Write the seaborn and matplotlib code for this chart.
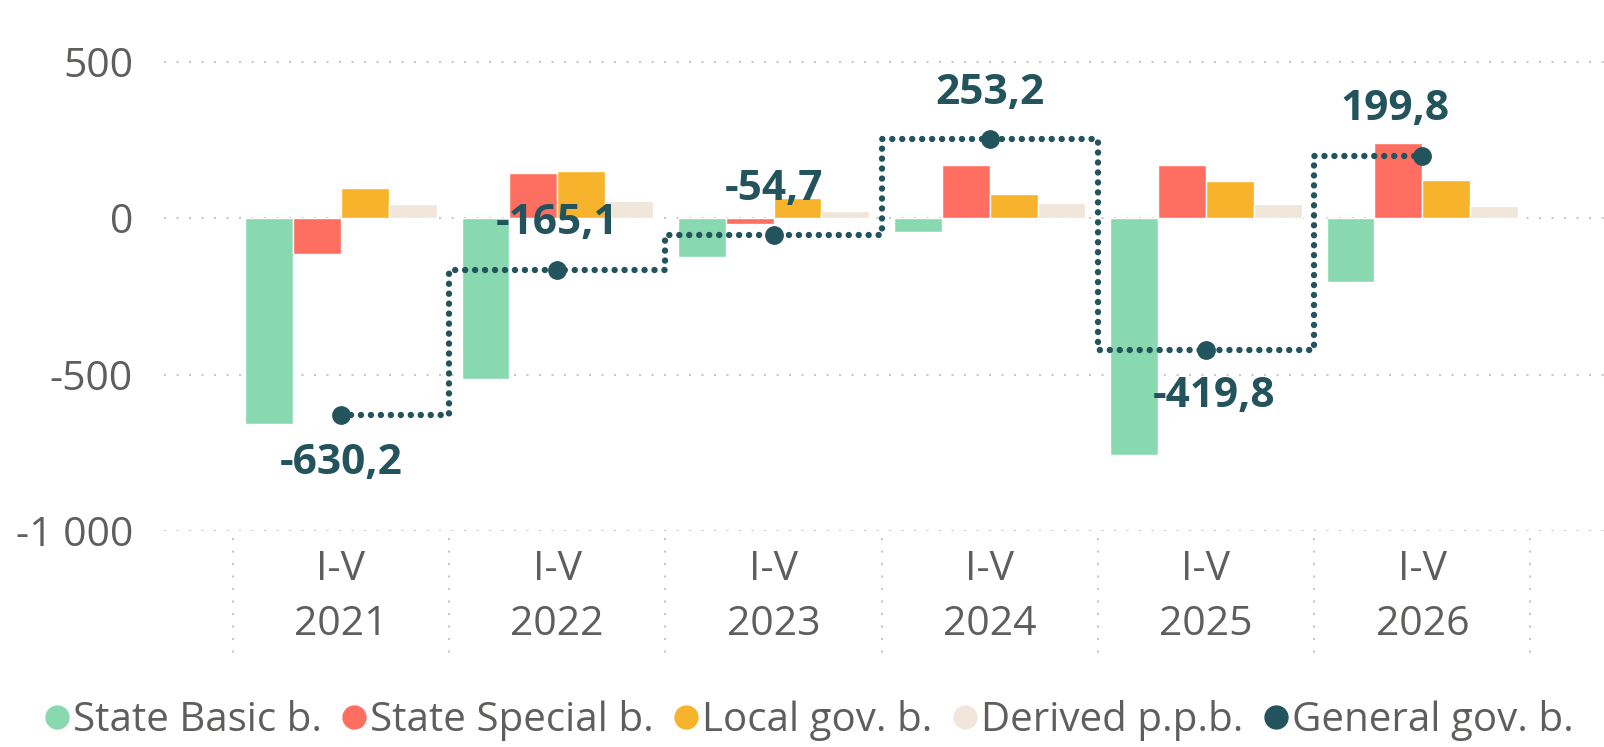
import numpy as np
import pandas as pd
import seaborn as sns
import matplotlib.pyplot as plt
from matplotlib.lines import Line2D

periods = ["I-V\n2021", "I-V\n2022", "I-V\n2023", "I-V\n2024", "I-V\n2025", "I-V\n2026"]
series_names = ["State Basic b.", "State Special b.", "Local gov. b.", "Derived p.p.b."]
state_basic = [-658, -514, -123, -43, -757, -205]
state_special = [-113, 144, -18, 169, 171, 241]
local_gov = [96, 150, 65, 77, 120, 123]
derived = [45, 55, 23, 49, 46, 40]
general_gov = [-630.2, -165.1, -54.7, 253.2, -419.8, 199.8]
general_name = "General gov. b."

yticks = [-1000, -500, 0, 500]
ytick_labels = ["-1 000", "-500", "0", "500"]

colors = ["#88D9B0", "#FF6F61", "#F7B32B", "#F0E6DA"]
line_color = "#23535C"
text_gray = "#605E5C"

df = pd.DataFrame({
    "period": periods * 4,
    "series": np.repeat(series_names, len(periods)),
    "value": state_basic + state_special + local_gov + derived,
})

sns.set_theme(style="white")
plt.rcParams["font.family"] = ["Open Sans", "DejaVu Sans"]

fig = plt.figure(figsize=(16.04, 7.47), dpi=100)
ax = fig.add_axes([0.102, 0.289, 0.898, 0.662])

sns.barplot(
    data=df, x="period", y="value", hue="series", hue_order=series_names,
    order=periods, palette=colors, width=0.885, saturation=1, ax=ax,
    legend=False, errorbar=None,
)

x = np.arange(len(periods))
ax.plot(
    x, general_gov, drawstyle="steps-mid", color=line_color, linewidth=4.6,
    linestyle=(0, (0.01, 1.55)), dash_capstyle="round",
    marker="o", markersize=12.5, zorder=5,
)

# data labels for the general government line
offsets = [(0, -35), (0, 33), (0, 33), (0, 33), (6, -34), (-20, 33)]
for xi, val, off in zip(x, general_gov, offsets):
    ax.annotate(
        f"{val:.1f}".replace(".", ","), (xi, val), xytext=off,
        textcoords="offset points", ha="center", va="center",
        fontsize=30.5, fontweight="bold", color=line_color, zorder=6,
    )

ax.set_xlim(-0.82, 5.84)
ax.set_ylim(-1000, 580)
ax.set_yticks(yticks)
ax.set_yticklabels(ytick_labels)
ax.set_xlabel("")
ax.set_ylabel("")
ax.tick_params(axis="y", length=0, pad=22, labelsize=29.5, labelcolor=text_gray)
ax.tick_params(axis="x", length=0, pad=13, labelsize=29.5, labelcolor=text_gray)
for lbl in ax.get_xticklabels():
    lbl.set_linespacing(1.5)
for s in ax.spines.values():
    s.set_visible(False)
for yv in yticks:
    ax.axhline(yv, color="#C8C8C8", linewidth=1.5, linestyle=(0, (1, 5)), zorder=0)

# category separators below the plot area
ax.vlines(np.arange(-0.5, len(periods)), -0.014, -0.26,
          transform=ax.get_xaxis_transform(), clip_on=False,
          color="#C8C8C8", linewidth=1.5, linestyles=(0, (1, 5)))

handles = [Line2D([], [], linestyle="", marker="o", markersize=16.5,
                  markerfacecolor=c, markeredgecolor=c) for c in colors]
handles.append(Line2D([], [], linestyle="", marker="o", markersize=16.5,
                      markerfacecolor=line_color, markeredgecolor=line_color))
fig.legend(
    handles, series_names + [general_name], loc="center",
    bbox_to_anchor=(0.502, 0.036), ncol=5, frameon=False, fontsize=29,
    handletextpad=-0.1, columnspacing=0.3, labelcolor=text_gray,
    handlelength=1.0, borderpad=0, borderaxespad=0,
)

fig.savefig("out.png", dpi=100)
